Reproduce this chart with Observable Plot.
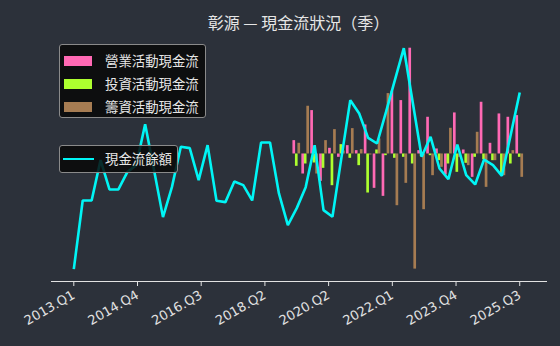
<!DOCTYPE html>
<html>
<head>
<meta charset="utf-8">
<script src="https://cdn.jsdelivr.net/npm/d3@7"></script>
<script src="https://cdn.jsdelivr.net/npm/@observablehq/plot@0.6"></script>
<style>
  html, body { margin: 0; padding: 0; background: #2c313a; }
  #wrap { position: relative; width: 560px; height: 346px; background: #2c313a; overflow: hidden;
          font-family: "Noto Sans CJK TC", "Noto Sans", sans-serif; }
  #wrap svg { position: absolute; left: 0; top: 0; }
  .title { position: absolute; left: 51px; width: 495px; top: 10px; text-align: center;
           color: #e6e6e6; font-size: 16px; line-height: 24px; }
  .legend { position: absolute; background: rgba(8,8,8,0.85); border: 1px solid #8a8a8a;
            border-radius: 3px; color: #e6e6e6; font-size: 13.4px; box-sizing: border-box; }
  .row { position: absolute; left: 0; height: 20px; line-height: 20px; white-space: nowrap; }
  .sw { position: absolute; left: 4px; top: 5px; width: 28px; height: 10px; }
  .ln { position: absolute; left: 3px; top: 8.5px; width: 31px; height: 2.6px; }
  .lab { position: absolute; left: 45px; top: -1px; }
</style>
</head>
<body>
<div id="wrap"></div>
<script>
// ---- data ----
const quarters = [
  "2013.Q1","2013.Q2","2013.Q3","2013.Q4","2014.Q1","2014.Q2","2014.Q3","2014.Q4",
  "2015.Q1","2015.Q2","2015.Q3","2015.Q4","2016.Q1","2016.Q2","2016.Q3","2016.Q4",
  "2017.Q1","2017.Q2","2017.Q3","2017.Q4","2018.Q1","2018.Q2","2018.Q3","2018.Q4",
  "2019.Q1","2019.Q2","2019.Q3","2019.Q4","2020.Q1","2020.Q2","2020.Q3","2020.Q4",
  "2021.Q1","2021.Q2","2021.Q3","2021.Q4","2022.Q1","2022.Q2","2022.Q3","2022.Q4",
  "2023.Q1","2023.Q2","2023.Q3","2023.Q4","2024.Q1","2024.Q2","2024.Q3","2024.Q4",
  "2025.Q1","2025.Q2","2025.Q3"
];
// 現金流餘額 (one value per quarter)
const balance = [
  36, 242, 242, 363, 275, 275, 327, 348, 471, 333,
  192, 282, 403, 399, 303, 408, 241, 237, 299, 288,
  242, 416, 416, 263, 168, 219, 282, 408, 213, 193,
  369, 543, 503, 430, 413, 507, 603, 699, 537, 373,
  433, 338, 306, 410, 318, 290, 365, 348, 316, 441,
  566
];
// cash-flow bars start at this quarter
const flowStart = "2019.Q2";
const operating = [ 40, -60, 130, -82,  17, -10,  25,  10,  87, -103, -127, 188, 160,
                   317,  10, 110,  15, -63, 123,  12, -70, 155,  32, 120,  110,  115];
const investing = [-37, -30, -27, -43, -95,  28, -13, -35, -117,  12,   -5, -13, -10,
                   -30,  -8,  -5, -20, -30, -55, -28, -10, -17, -20, -60,  -30,  -10];
const financing = [ 32, 143, -60,  40,  73,   9,  76,  13,  -3,  45,  181, -155, -88,
                  -345, -167, -65, -40, 77, -10, -35,  65, -100, -20, -65,   10,  -70];
const seriesNames = ["營業活動現金流", "投資活動現金流", "籌資活動現金流"];
const seriesColors = ["#ff69b4", "#adff2f", "#a67c52"];
const lineName = "現金流餘額";
const lineColor = "#00f5f5";
const tickLabels = ["2013.Q1","2014.Q4","2016.Q3","2018.Q2","2020.Q2","2022.Q1","2023.Q4","2025.Q3"];
const titleText = "彰源 — 現金流狀況（季）";

// ---- build tables ----
const startIdx = quarters.indexOf(flowStart);
const barOffsets = [-0.28, 0, 0.28];
const barW = 0.3;
const bars = [];
[operating, investing, financing].forEach((arr, s) => {
  arr.forEach((v, k) => {
    const i = startIdx + k;
    bars.push({i, s, v, x1: i + barOffsets[s] - barW / 2, x2: i + barOffsets[s] + barW / 2});
  });
});
const lineData = balance.map((v, i) => ({i, v}));
// labels are placed evenly from first to last quarter (rounded to nearest quarter)
const n = quarters.length - 1;
const tickAt = tickLabels.map((t, k) => k * n / (tickLabels.length - 1));

const common = {
  width: 560, height: 346,
  marginLeft: 51, marginRight: 14, marginTop: 35, marginBottom: 65,
  style: {background: "transparent", color: "#e2e2e2", fontSize: "13px",
          fontFamily: "'DejaVu Sans', sans-serif"},
};
const xDomain = [-2.5, 53];

const barPlot = Plot.plot({
  ...common,
  x: {type: "linear", domain: xDomain, ticks: tickAt,
      tickFormat: (d) => quarters[Math.round(d)], tickRotate: -30, tickSize: 5,
      line: true, label: null},
  y: {axis: null, insetTop: 12.7, insetBottom: 12.4},
  marks: [
    Plot.rectY(bars, {x1: "x1", x2: "x2", y1: 0, y2: "v",
      fill: d => seriesColors[d.s]})
  ]
});

const linePlot = Plot.plot({
  ...common,
  x: {type: "linear", domain: xDomain, axis: null},
  y: {axis: null, insetTop: 12.7, insetBottom: 12.4},
  marks: [
    Plot.line(lineData, {x: "i", y: "v", stroke: lineColor, strokeWidth: 2.6,
      strokeLinejoin: "miter", strokeLinecap: "butt"})
  ]
});

const wrap = document.getElementById("wrap");
wrap.appendChild(barPlot);
wrap.appendChild(linePlot);

const title = document.createElement("div");
title.className = "title";
title.textContent = titleText;
wrap.appendChild(title);

const lg1 = document.createElement("div");
lg1.className = "legend";
Object.assign(lg1.style, {left: "59px", top: "44px", width: "147px", height: "74px"});
seriesNames.forEach((name, k) => {
  const r = document.createElement("div");
  r.className = "row";
  r.style.top = (6 + k * 23) + "px";
  r.innerHTML = `<div class="sw" style="background:${seriesColors[k]}"></div><span class="lab">${name}</span>`;
  lg1.appendChild(r);
});
wrap.appendChild(lg1);

const lg2 = document.createElement("div");
lg2.className = "legend";
Object.assign(lg2.style, {left: "59px", top: "145px", width: "119px", height: "28px"});
const r2 = document.createElement("div");
r2.className = "row";
r2.style.top = "3px";
r2.innerHTML = `<div class="ln" style="background:${lineColor}"></div><span class="lab">${lineName}</span>`;
lg2.appendChild(r2);
wrap.appendChild(lg2);
</script>
</body>
</html>
